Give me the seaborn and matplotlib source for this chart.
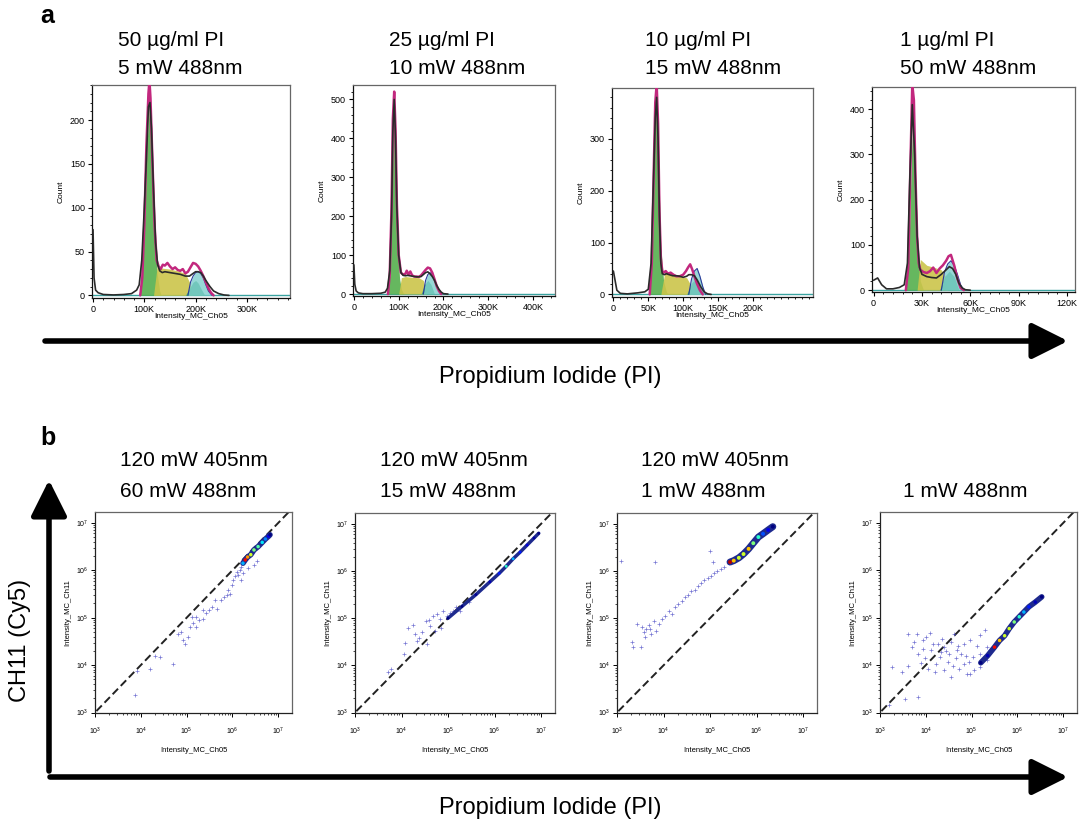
import numpy as np
import seaborn as sns
import matplotlib.pyplot as plt
from matplotlib.ticker import FixedLocator, MultipleLocator, FuncFormatter, LogLocator, NullFormatter

# ---------------- panel a : PI histograms (x in thousands) ----------------
hist_titles = [("50 µg/ml PI", "5 mW 488nm"), ("25 µg/ml PI", "10 mW 488nm"),
               ("10 µg/ml PI", "15 mW 488nm"), ("1 µg/ml PI", "50 mW 488nm")]

# 50 ug/ml
h1_data_x = [0, 2, 5, 10, 20, 40, 60, 75, 85, 90, 95, 100, 105, 108, 111, 114, 118, 122, 126, 130,
             135, 140, 150, 160, 170, 180, 188, 195, 200, 205, 210, 215, 220, 228, 235, 245, 255, 265]
h1_data_y = [75, 20, 6, 3, 1, 0.5, 1, 2, 6, 12, 40, 100, 170, 215, 220, 190, 120, 60, 35, 28,
             26, 27, 26, 25, 24, 22, 22, 25, 27, 27, 26, 22, 17, 10, 5, 2, 0.5, 0]
h1_fit_x = [92, 96, 100, 104, 108, 110, 112, 116, 120, 124, 128, 132, 136, 140, 145, 150, 155, 160,
            165, 170, 175, 180, 185, 190, 195, 200, 205, 210, 215, 220, 225, 230, 235]
h1_fit_y = [0, 20, 80, 170, 230, 245, 225, 150, 80, 40, 33, 30, 35, 34, 37, 33, 30, 32,
            29, 28, 30, 25, 27, 32, 37, 36, 33, 28, 22, 15, 8, 3, 0]
h1_g1_x = [90, 95, 100, 105, 110, 115, 120, 125, 130, 133]
h1_g1_y = [0, 20, 80, 170, 220, 160, 70, 25, 5, 0]
h1_s_x = [118, 125, 135, 150, 165, 180, 188, 194]
h1_s_y = [0, 33, 31, 30, 28, 25, 15, 0]
h1_g2_x = [180, 188, 195, 200, 205, 212, 218]
h1_g2_y = [0, 8, 15, 17, 14, 6, 0]
h1_cy_x = [185, 190, 195, 200, 205, 210, 215, 220, 225, 232]
h1_cy_y = [0, 15, 22, 26, 27, 25, 20, 12, 5, 0]

# 25 ug/ml
h2_data_x = [0, 2, 5, 10, 20, 40, 60, 70, 75, 80, 84, 87, 90, 93, 96, 100, 105, 110, 115, 120,
             130, 140, 150, 155, 160, 165, 170, 175, 180, 185, 190, 195, 200, 210]
h2_data_y = [75, 25, 8, 3, 1, 1, 2, 5, 15, 60, 200, 420, 500, 400, 220, 100, 55, 48, 47, 48,
             46, 44, 45, 50, 55, 57, 52, 45, 35, 22, 12, 5, 1, 0]
h2_fit_x = [76, 80, 84, 87, 90, 93, 96, 100, 105, 110, 115, 118, 122, 126, 130, 135, 140, 145,
            150, 155, 160, 165, 170, 175, 180, 185, 190, 195]
h2_fit_y = [0, 50, 220, 450, 520, 420, 230, 100, 55, 50, 52, 60, 50, 58, 48, 45, 45, 44,
            48, 55, 62, 68, 66, 55, 38, 20, 8, 0]
h2_g1_x = [76, 80, 84, 88, 90, 94, 98, 102, 106, 110, 113]
h2_g1_y = [0, 50, 200, 420, 500, 330, 120, 40, 12, 3, 0]
h2_s_x = [100, 106, 115, 130, 145, 155, 162]
h2_s_y = [0, 42, 45, 43, 42, 35, 0]
h2_g2_x = [150, 158, 165, 172, 180]
h2_g2_y = [0, 25, 35, 25, 0]
h2_cy_x = [155, 160, 165, 170, 175, 180, 185, 190, 196]
h2_cy_y = [0, 35, 50, 55, 50, 38, 22, 8, 0]

# 10 ug/ml
h3_data_x = [0, 2, 5, 10, 20, 35, 45, 50, 54, 57, 60, 62, 64, 66, 68, 70, 73, 76, 80, 85,
             90, 95, 100, 105, 108, 112, 116, 120, 125, 130, 135, 140]
h3_data_y = [45, 30, 8, 2, 1, 3, 5, 10, 60, 200, 340, 380, 300, 150, 60, 40, 38, 40, 38, 36,
             36, 35, 33, 35, 38, 38, 36, 28, 15, 5, 1, 0]
h3_fit_x = [52, 55, 58, 60, 62, 64, 66, 68, 70, 72, 75, 78, 82, 86, 90, 95, 100, 104, 107,
            110, 113, 116, 120, 124, 128]
h3_fit_y = [0, 60, 250, 370, 405, 330, 160, 70, 45, 42, 45, 40, 42, 38, 35, 35, 38, 45, 52,
            58, 48, 35, 20, 8, 0]
h3_g1_x = [52, 56, 59, 62, 65, 68, 72, 76, 78]
h3_g1_y = [0, 100, 300, 380, 250, 90, 25, 5, 0]
h3_s_x = [68, 74, 85, 95, 105, 110, 114]
h3_s_y = [0, 45, 40, 36, 32, 20, 0]
h3_g2_x = [105, 112, 118, 124, 130]
h3_g2_y = [0, 22, 30, 20, 0]
h3_cy_x = [108, 112, 116, 120, 124, 128, 132]
h3_cy_y = [0, 30, 45, 50, 35, 15, 0]

# 1 ug/ml
h4_data_x = [0, 2.5, 5, 8, 12, 16, 19, 21, 22.5, 24, 25.5, 27, 28.5, 30, 33, 36, 39, 42, 45,
             47, 49, 51, 53, 55, 57, 60]
h4_data_y = [22, 27, 12, 3, 3, 6, 12, 60, 250, 410, 300, 120, 50, 35, 30, 28, 27, 35, 45,
             52, 48, 35, 15, 5, 1, 0]
h4_fit_x = [20, 21.5, 23, 24, 25, 26, 27, 28, 29, 31, 33, 35, 37, 39, 41, 43, 45, 46.5, 48,
            50, 52, 54, 56]
h4_fit_y = [0, 50, 300, 455, 420, 250, 120, 60, 45, 40, 38, 42, 50, 38, 48, 55, 65, 75, 78,
            55, 25, 5, 0]
h4_g1_x = [20, 22, 23.5, 24.5, 26, 27.5, 29, 31]
h4_g1_y = [0, 100, 300, 410, 250, 90, 20, 0]
h4_s_x = [27, 29, 33, 38, 42, 44.5, 46]
h4_s_y = [0, 68, 55, 50, 45, 30, 0]
h4_g2_x = [41, 44, 47, 50, 53]
h4_g2_y = [0, 30, 42, 30, 0]
h4_cy_x = [42, 44, 46, 48, 50, 52, 54, 56]
h4_cy_y = [0, 40, 58, 65, 55, 35, 12, 0]

# ---------------- panel b : CH11 vs CH05 (log10 values) ----------------
scat_titles = [("120 mW 405nm", "60 mW 488nm"), ("120 mW 405nm", "15 mW 488nm"),
               ("120 mW 405nm", "1 mW 488nm"), ("", "1 mW 488nm")]

s1_x = [3.88, 3.91, 4.19, 4.31, 4.42, 4.71, 4.82, 4.87, 4.93, 4.96, 5.04, 5.07, 5.11, 5.14, 5.21,
        5.28, 5.35, 5.42, 5.49, 5.56, 5.63, 5.67, 5.74, 5.81, 5.88, 5.91, 5.98, 6.02, 6.05, 6.09,
        6.12, 6.16, 6.19, 6.23, 6.33, 6.47, 6.53, 6.19, 5.95, 5.35, 5.20]
s1_y = [3.37, 3.88, 3.92, 4.20, 4.17, 4.03, 4.66, 4.70, 4.52, 4.45, 4.59, 4.80, 5.02, 4.88, 4.81,
        4.95, 4.98, 5.09, 5.16, 5.23, 5.37, 5.19, 5.37, 5.44, 5.48, 5.58, 5.69, 5.80, 5.87, 5.97,
        5.90, 6.01, 6.08, 5.94, 6.04, 6.11, 6.19, 5.80, 5.51, 5.16, 5.02]
s1_core_x = [6.23, 6.28, 6.33, 6.40, 6.47, 6.56, 6.65, 6.72, 6.79, 6.82]
s1_core_y = [6.15, 6.22, 6.28, 6.33, 6.43, 6.50, 6.59, 6.66, 6.72, 6.75]
s1_core_lvl = [0.3, 0.9, 0.75, 0.6, 0.5, 0.45, 0.35, 0.25, 0.1, 0.0]

s2_x = [3.70, 3.77, 4.05, 4.08, 4.13, 4.24, 4.29, 4.33, 4.38, 4.45, 4.52, 4.59, 4.62, 4.68, 4.73,
        4.76, 4.83, 4.90, 4.97, 5.04, 5.11, 5.18, 4.55, 4.85, 5.25, 5.45]
s2_y = [3.85, 3.92, 4.25, 4.47, 4.80, 4.86, 4.66, 4.52, 4.59, 4.70, 4.95, 4.96, 4.84, 5.05, 4.73,
        5.09, 4.98, 5.16, 5.05, 5.12, 5.16, 5.23, 4.45, 4.80, 5.15, 5.35]
s2_core_x = [5.00, 5.30, 5.60, 5.90, 6.10, 6.25, 6.40, 6.55, 6.70, 6.85, 6.95]
s2_core_y = [5.00, 5.25, 5.50, 5.77, 5.95, 6.10, 6.26, 6.40, 6.55, 6.70, 6.80]
s2_core_lvl = [0.0, 0.0, 0.02, 0.05, 0.15, 0.4, 0.3, 0.15, 0.08, 0.03, 0.0]

s3_x = [3.09, 3.81, 4.99, 5.06, 3.32, 3.51, 3.53, 3.58, 3.63, 3.69, 3.74, 3.79, 3.84, 3.90, 3.97,
        4.04, 4.11, 4.18, 4.25, 4.32, 4.39, 4.46, 4.53, 4.60, 4.67, 4.74, 4.81, 4.88, 4.95, 5.02,
        5.09, 5.16, 5.23, 5.30, 3.44, 3.35, 3.60, 3.70]
s3_y = [6.22, 6.19, 6.42, 6.19, 4.50, 4.39, 4.81, 4.70, 4.77, 4.86, 4.66, 4.95, 4.73, 4.88, 4.98,
        5.05, 5.16, 5.09, 5.23, 5.30, 5.37, 5.44, 5.50, 5.57, 5.60, 5.69, 5.74, 5.80, 5.85, 5.90,
        5.95, 6.01, 6.04, 6.09, 4.88, 4.38, 4.60, 4.78]
s3_core_x = [5.43, 5.51, 5.62, 5.72, 5.83, 5.93, 6.04, 6.14, 6.25, 6.35]
s3_core_y = [6.19, 6.22, 6.28, 6.36, 6.47, 6.59, 6.72, 6.79, 6.87, 6.94]
s3_core_lvl = [0.95, 0.7, 0.6, 0.6, 0.7, 0.5, 0.4, 0.2, 0.1, 0.0]

s4_x = [3.62, 3.80, 3.94, 4.09, 3.70, 3.84, 3.98, 4.12, 4.26, 4.40, 4.55, 4.69, 4.83, 4.97, 5.11,
        4.30, 4.48, 4.65, 4.83, 5.04, 4.05, 4.19, 4.40, 4.55, 4.72, 4.90, 3.62, 3.48, 3.27, 3.55,
        3.84, 3.20, 4.01, 4.62, 5.18, 5.29, 5.33, 5.18, 5.40, 4.33, 4.76, 4.16, 3.94, 3.75, 4.51,
        4.94, 4.97, 5.18, 5.33, 4.22, 4.45, 4.60, 4.88, 3.90, 4.70, 5.05, 4.35]
s4_y = [4.66, 4.66, 4.52, 4.68, 4.38, 4.24, 4.14, 4.31, 4.45, 4.38, 4.49, 4.31, 4.45, 4.52, 4.41,
        4.17, 4.07, 4.14, 4.03, 4.17, 3.92, 3.85, 3.89, 3.75, 3.92, 3.82, 3.99, 3.85, 3.95, 3.29,
        3.32, 3.15, 4.59, 4.66, 4.63, 4.74, 4.38, 4.24, 4.31, 4.27, 4.24, 4.45, 4.34, 4.49, 4.24,
        4.06, 3.81, 3.96, 4.10, 4.02, 4.30, 3.98, 4.20, 4.05, 4.40, 3.90, 4.55]
s4_core_x = [5.20, 5.35, 5.50, 5.61, 5.72, 5.82, 5.93, 6.04, 6.14, 6.25, 6.39, 6.53]
s4_core_y = [4.05, 4.20, 4.38, 4.52, 4.62, 4.77, 4.91, 5.02, 5.12, 5.23, 5.33, 5.44]
s4_core_lvl = [0.0, 0.05, 0.9, 0.7, 0.6, 0.6, 0.5, 0.4, 0.3, 0.15, 0.05, 0.0]

W, H = 1079, 824


def rect(l, t, r, b):
    return [l / W, 1 - b / H, (r - l) / W, (b - t) / H]


def ftext(x, y, s, **kw):
    fig.text(x / W, 1 - y / H, s, **kw)


def k_fmt(v, pos):
    return "0" if v == 0 else f"{int(v)}K"


def hist_panel(ax, d, xlim, ylim, xmaj, ymaj, xmin, ymin):
    ax.axhline(0, color="#3aa3a0", lw=1.0, zorder=1)
    ax.fill_between(d["g1_x"], d["g1_y"], color="#55b04e", alpha=0.9, lw=0, zorder=2)
    ax.fill_between(d["s_x"], d["s_y"], color="#cbc54a", alpha=0.9, lw=0, zorder=2)
    ax.fill_between(d["g2_x"], d["g2_y"], color="#3fa87a", alpha=0.95, lw=0, zorder=3)
    ax.fill_between(d["cy_x"], d["cy_y"], color="#7dcfcc", alpha=0.8, lw=0, zorder=3)
    sns.lineplot(x=d["cy_x"], y=d["cy_y"], ax=ax, color="#2a3a9a", lw=0.8, sort=False,
                 estimator=None, zorder=4)
    sns.lineplot(x=d["fit_x"], y=d["fit_y"], ax=ax, color="#c2287e", lw=1.8, sort=False,
                 estimator=None, zorder=5)
    sns.lineplot(x=d["data_x"], y=d["data_y"], ax=ax, color="#2b2b2b", lw=1.2, sort=False,
                 estimator=None, zorder=6)
    ax.set_xlim(*xlim)
    ax.set_ylim(*ylim)
    ax.xaxis.set_major_locator(FixedLocator(xmaj))
    ax.xaxis.set_major_formatter(FuncFormatter(k_fmt))
    ax.xaxis.set_minor_locator(MultipleLocator(xmin))
    ax.yaxis.set_major_locator(FixedLocator(ymaj))
    ax.yaxis.set_minor_locator(MultipleLocator(ymin))
    ax.tick_params(labelsize=6.5, length=3, width=0.8, pad=2)
    ax.tick_params(which="minor", length=1.6, width=0.6)
    ax.set_xlabel("Intensity_MC_Ch05", fontsize=6, labelpad=-1)
    ax.set_ylabel("Count", fontsize=6, labelpad=4)
    for sp in ax.spines.values():
        sp.set_color("#666666")
        sp.set_linewidth(0.9)
    ax.spines["left"].set_color("#111111")
    ax.spines["bottom"].set_color("#111111")


def scatter_panel(ax, sx, sy, cx, cy, lvl, band):
    ax.set_xscale("log")
    ax.set_yscale("log")
    ax.plot([10 ** 2.5, 10 ** 7.6], [10 ** 2.5, 10 ** 7.6], color="#222222", lw=1.4,
            ls=(0, (4, 2)), zorder=2)
    sns.scatterplot(x=10 ** np.array(sx), y=10 ** np.array(sy), ax=ax, marker="+", s=6,
                    color="#4646c4", linewidth=0.5, alpha=0.75, legend=False, zorder=3)
    sns.lineplot(x=10 ** np.array(cx), y=10 ** np.array(cy), ax=ax, color="#1e2a8e", lw=band,
                 sort=False, estimator=None, zorder=4, solid_capstyle="round")
    sns.scatterplot(x=10 ** np.array(cx), y=10 ** np.array(cy), hue=lvl,
                    palette=plt.get_cmap("jet"), hue_norm=(0, 1), s=band * 1.6, linewidth=0,
                    ax=ax, legend=False, zorder=5)
    ax.set_xlim(10 ** 3.0, 10 ** 7.3)
    ax.set_ylim(10 ** 2.99, 10 ** 7.23)
    for axis in (ax.xaxis, ax.yaxis):
        axis.set_major_locator(LogLocator(base=10, numticks=10))
        axis.set_minor_locator(LogLocator(base=10, subs=np.arange(2, 10), numticks=10))
        axis.set_minor_formatter(NullFormatter())
    ax.tick_params(labelsize=5, length=3, width=0.7, pad=2)
    ax.tick_params(which="minor", length=1.5, width=0.5)
    ax.tick_params(axis="x", pad=6)
    ax.set_xlabel("Intensity_MC_Ch05", fontsize=5.5, labelpad=7)
    ax.set_ylabel("Intensity_MC_Ch11", fontsize=5.5, labelpad=3)
    for sp in ax.spines.values():
        sp.set_color("#666666")
        sp.set_linewidth(0.9)
    ax.spines["left"].set_color("#222222")
    ax.spines["bottom"].set_color("#222222")


sns.set_style("ticks")
plt.rcParams["font.family"] = ["Liberation Sans", "DejaVu Sans"]
plt.rcParams.update({"text.color": "black", "axes.labelcolor": "black",
                     "xtick.color": "black", "ytick.color": "black"})

fig = plt.figure(figsize=(W / 100, H / 100), dpi=100)

hist_data = []
for p in ("h1", "h2", "h3", "h4"):
    g = globals()
    hist_data.append({k: g[f"{p}_{k}"] for k in
                      ("data_x", "data_y", "fit_x", "fit_y", "g1_x", "g1_y", "s_x", "s_y",
                       "g2_x", "g2_y", "cy_x", "cy_y")})

hist_rects = [(92, 85, 290, 298), (353, 85, 555, 296), (612, 88, 813, 297), (872, 87, 1075, 292)]
hist_axes_cfg = [
    ((-2, 384), (-3, 240), [0, 100, 200, 300], [0, 50, 100, 150, 200], 20, 10),
    ((-2, 449), (-5, 537), [0, 100, 200, 300, 400], [0, 100, 200, 300, 400, 500], 20, 20),
    ((-2, 286), (-5, 398), [0, 50, 100, 150, 200], [0, 100, 200, 300], 10, 20),
    ((-1, 125), (-4, 449), [0, 30, 60, 90, 120], [0, 100, 200, 300, 400], 6, 20),
]
title_x = [118, 389, 645, 900]
for i in range(4):
    ax = fig.add_axes(rect(*hist_rects[i]))
    hist_panel(ax, hist_data[i], *hist_axes_cfg[i])
    ftext(title_x[i], 40, hist_titles[i][0], fontsize=15, va="center")
    ftext(title_x[i], 68, hist_titles[i][1], fontsize=15, va="center")

scat_data = [(s1_x, s1_y, s1_core_x, s1_core_y, s1_core_lvl),
             (s2_x, s2_y, s2_core_x, s2_core_y, s2_core_lvl),
             (s3_x, s3_y, s3_core_x, s3_core_y, s3_core_lvl),
             (s4_x, s4_y, s4_core_x, s4_core_y, s4_core_lvl)]
band_width = [4, 2.5, 5, 4]
scat_rects = [(95, 512, 292, 713), (355, 513, 555, 713), (617, 513, 817, 713), (880, 512, 1077, 713)]
stitle_x = [120, 380, 641, 903]
for i in range(4):
    ax = fig.add_axes(rect(*scat_rects[i]))
    scatter_panel(ax, *scat_data[i], band_width[i])
    if scat_titles[i][0]:
        ftext(stitle_x[i], 461, scat_titles[i][0], fontsize=15, va="center")
    ftext(stitle_x[i], 492, scat_titles[i][1], fontsize=15, va="center")

# panel letters
ftext(40, 16, "a", fontsize=18, fontweight="bold", va="center")
ftext(40, 438, "b", fontsize=18, fontweight="bold", va="center")

# big arrows and axis captions
arrow = dict(arrowstyle="-|>,head_length=1.1,head_width=0.55", lw=4, color="black",
             mutation_scale=20, shrinkA=0, shrinkB=0)
fig.add_artist(plt.Annotation("", xy=(1068, H - 341), xytext=(45, H - 341),
                              xycoords="figure pixels", arrowprops=arrow))
ftext(550, 377, "Propidium Iodide (PI)", fontsize=17, ha="center", va="center")

fig.add_artist(plt.Annotation("", xy=(1068, H - 777), xytext=(50, H - 777),
                              xycoords="figure pixels", arrowprops=arrow))
fig.add_artist(plt.Annotation("", xy=(49, H - 480), xytext=(49, H - 771),
                              xycoords="figure pixels", arrowprops=arrow))
ftext(550, 808, "Propidium Iodide (PI)", fontsize=17, ha="center", va="center")
ftext(20, 640, "CH11 (Cy5)", fontsize=17, ha="center", va="center", rotation=90)

fig.savefig("out.png", dpi=100)
